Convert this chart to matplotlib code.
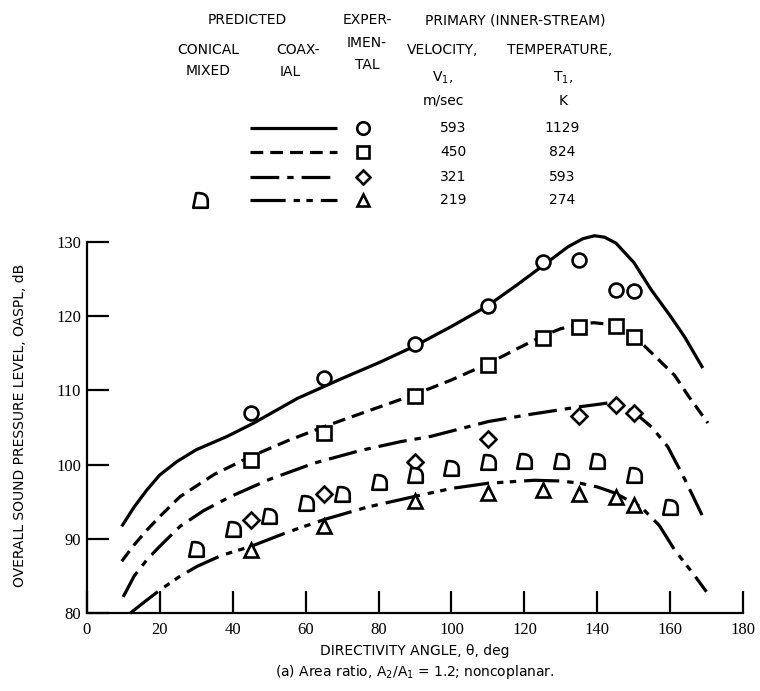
import matplotlib
matplotlib.use("Agg")
import matplotlib.pyplot as plt
from matplotlib.lines import Line2D
from matplotlib.path import Path

# ------------------------------------
# data
# ------------------------------------
# predicted coaxial curves (directivity angle, deg / OASPL, dB)
ang_593 = [9.6, 13, 16.5, 20, 24.7, 30, 38.5, 45.8, 57.7, 70, 80, 89.7, 100, 109.7, 118,
           125.4, 131.9, 136, 139.2, 142, 145.1, 150, 154.8, 160, 163.9, 168.9]
spl_593 = [91.7, 94.3, 96.6, 98.6, 100.4, 102.0, 103.8, 105.6, 108.9, 111.6, 113.7, 115.9, 118.6,
           121.3, 124.2, 126.9, 129.3, 130.4, 130.8, 130.6, 129.8, 127.2, 123.5, 120.0, 117.2, 113.0]

ang_450 = [9.6, 13, 16.5, 20, 25.6, 35, 45, 55, 65, 77, 89.7, 100, 110.1, 118, 125.4, 130,
           135.3, 139, 142.9, 147, 152, 156, 161.2, 165, 170.3]
spl_450 = [87.0, 89.2, 91.2, 93.0, 95.7, 98.7, 101.1, 103.2, 105.1, 107.2, 109.4, 111.4, 113.6,
           115.6, 117.4, 118.3, 118.9, 119.1, 118.9, 118.0, 116.4, 114.5, 112.0, 109.2, 105.6]

ang_321 = [10, 13, 16.5, 20, 25.6, 32, 39.4, 50, 62.3, 75, 86.1, 94.3, 110.1, 122, 135.3, 140,
           142.9, 146, 150.2, 155, 159.3, 164, 168.9]
spl_321 = [82.2, 85.0, 87.2, 89.0, 91.7, 93.8, 95.7, 98.0, 100.2, 101.9, 103.1, 103.8, 105.8,
           106.8, 107.8, 108.1, 108.3, 108.0, 107.0, 105.0, 102.4, 98.0, 93.0]

ang_219 = [11.9, 16, 20, 25, 30.2, 37, 45, 55, 65, 77, 89.7, 100, 110.1, 122.7, 130, 135.3,
           140, 144.7, 152, 157, 161.2, 166, 169.9]
spl_219 = [80.0, 81.6, 83.1, 84.8, 86.3, 87.8, 89.0, 90.9, 92.6, 94.3, 95.7, 96.8, 97.5, 97.9,
           97.8, 97.5, 97.0, 96.2, 94.3, 91.8, 88.5, 85.5, 82.9]

# experimental points
exp_ang_593 = [45, 65, 90, 110, 125, 135, 145, 150]
exp_spl_593 = [106.9, 111.6, 116.2, 121.4, 127.3, 127.6, 123.5, 123.3]
exp_ang_450 = [45, 65, 90, 110, 125, 135, 145, 150]
exp_spl_450 = [100.6, 104.2, 109.3, 113.4, 117.0, 118.5, 118.6, 117.2]
exp_ang_321 = [45, 65, 90, 110, 135, 145, 150]
exp_spl_321 = [92.6, 96.1, 100.4, 103.5, 106.5, 108.0, 106.9]
exp_ang_219 = [45, 65, 90, 110, 125, 135, 145, 150]
exp_spl_219 = [88.5, 91.7, 95.1, 96.2, 96.6, 96.0, 95.7, 94.6]

# predicted conical mixed, 219 m/sec
con_ang = [30, 40, 50, 60, 70, 80, 90, 100, 110, 120, 130, 140, 150, 160]
con_spl = [88.6, 91.4, 93.1, 94.8, 96.1, 97.7, 98.6, 99.5, 100.4, 100.5, 100.5, 100.5, 98.6, 94.3]

velocities = ["593", "450", "321", "219"]
temperatures = ["1129", "824", "593", "274"]

x_ticks = [0, 20, 40, 60, 80, 100, 120, 140, 160, 180]
y_ticks = [80, 90, 100, 110, 120, 130]

# ------------------------------------
# styles
# ------------------------------------
styles = [(0, ()), (0, (4, 2.2)), (0, (9, 2.5, 2, 2.5)), (0, (11, 2.5, 2, 2, 2, 2.5))]
markers = ["o", "s", "D", "^"]
msizes = [10, 9.5, 8, 10]

# conical-mixed symbol: slanted left edge, rounded top-right
cm_path = Path(
    [(-0.5, -0.5), (-0.3, 0.5), (0.25, 0.55), (0.5, 0.35), (0.5, -0.05), (0.5, -0.5), (-0.5, -0.5)],
    [Path.MOVETO, Path.LINETO, Path.CURVE4, Path.CURVE4, Path.CURVE4, Path.LINETO, Path.CLOSEPOLY],
)

W, H = 760, 691
fig = plt.figure(figsize=(W / 100, H / 100), dpi=100)
ax = fig.add_axes([86.7 / W, 1 - 613.3 / H, (743.3 - 86.7) / W, (613.3 - 241.7) / H])

lw = 2.3
curves = [(ang_593, spl_593), (ang_450, spl_450), (ang_321, spl_321), (ang_219, spl_219)]
for (a, s), ls in zip(curves, styles):
    ax.plot(a, s, color="black", lw=lw, linestyle=ls, clip_on=False)

exps = [(exp_ang_593, exp_spl_593), (exp_ang_450, exp_spl_450),
        (exp_ang_321, exp_spl_321), (exp_ang_219, exp_spl_219)]
for (a, s), m, ms in zip(exps, markers, msizes):
    ax.plot(a, s, linestyle="none", marker=m, ms=ms, mfc="white", mec="black", mew=1.9, zorder=3)

ax.plot(con_ang, con_spl, linestyle="none", marker=cm_path, ms=11.5, mfc="white", mec="black",
        mew=1.9, zorder=3)

ax.set_xlim(0, 180)
ax.set_ylim(80, 130)
ax.set_xticks(x_ticks)
ax.set_yticks(y_ticks)
ax.spines["top"].set_visible(False)
ax.spines["right"].set_visible(False)
for sp in ("left", "bottom"):
    ax.spines[sp].set_linewidth(1.6)
ax.tick_params(direction="in", length=16, width=1.6, pad=4)
ax.tick_params(axis="x", pad=6)
for lab in ax.get_xticklabels() + ax.get_yticklabels():
    lab.set_fontfamily("Liberation Serif")
    lab.set_fontsize(12)

# axis titles and caption
sans = "DejaVu Sans"
fig.text(20 / W, 1 - 425 / H, "OVERALL SOUND PRESSURE LEVEL, OASPL, dB", rotation=90,
         ha="center", va="center", fontsize=10, family=sans)
fig.text(415 / W, 1 - 651 / H, "DIRECTIVITY ANGLE, \u03b8, deg", ha="center", va="center",
         fontsize=10, family=sans)
fig.text(415 / W, 1 - 672 / H, "(a) Area ratio, A$_2$/A$_1$ = 1.2; noncoplanar.",
         ha="center", va="center", fontsize=10, family=sans)

# ------------------------------------
# legend table at top
# ------------------------------------
def t(x, y, s, **kw):
    fig.text(x / W, 1 - y / H, s, ha="center", va="center", fontsize=10, family=sans, **kw)

t(247, 20, "PREDICTED")
t(367, 20, "EXPER-")
t(367, 43, "IMEN-")
t(367, 65, "TAL")
t(515, 20, "PRIMARY (INNER-STREAM)")
t(208, 50, "CONICAL")
t(208, 71, "MIXED")
t(298, 50, "COAX-")
t(290, 72, "IAL")
t(443, 50, "VELOCITY,")
t(443, 78, "V$_1$,")
t(443, 101, "m/sec")
t(560, 50, "TEMPERATURE,")
t(563, 78, "T$_1$,")
t(563, 101, "K")

rows_y = [128, 152, 177, 200]
for y, ls, m, ms, v, temp in zip(rows_y, styles, markers, msizes, velocities, temperatures):
    fig.add_artist(Line2D([250 / W, 337 / W], [1 - y / H, 1 - y / H], color="black", lw=lw,
                          linestyle=ls, transform=fig.transFigure))
    fig.add_artist(Line2D([363 / W], [1 - y / H], marker=m, ms=ms - 1, mfc="white", mec="black",
                          mew=1.9, transform=fig.transFigure))
    t(453, y, v)
    t(562, y, temp)
fig.add_artist(Line2D([200 / W], [1 - 200 / H], marker=cm_path, ms=11.5, mfc="white", mec="black",
                      mew=1.9, transform=fig.transFigure))

plt.savefig("out.png", dpi=100)
